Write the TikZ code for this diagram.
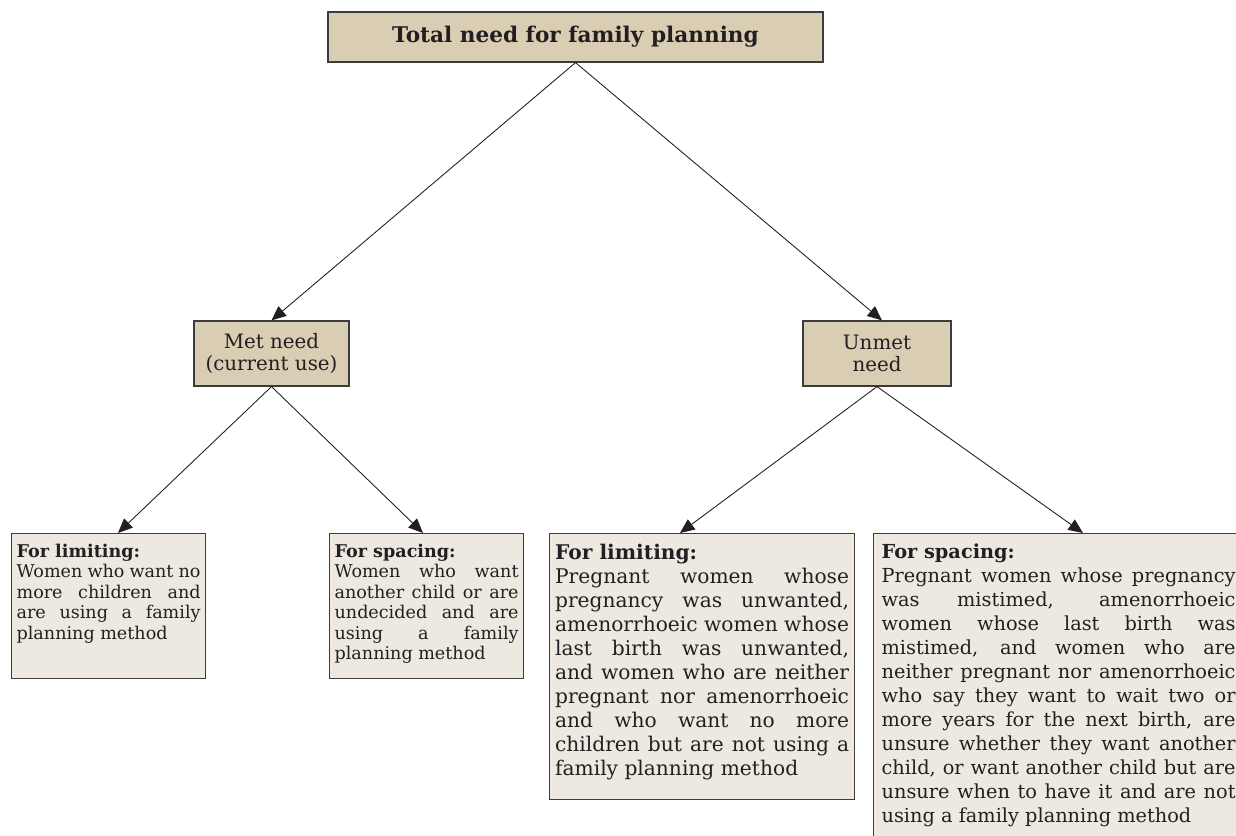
\documentclass[tikz,border=0pt]{standalone}
\usepackage{fontspec}
\setmainfont{DejaVu Serif}
\usetikzlibrary{arrows.meta}
\definecolor{needtan}{HTML}{D9CDB3}
\definecolor{grouppaper}{HTML}{EDE9E0}
\definecolor{edgegray}{HTML}{3C3C3C}
\definecolor{inkgray}{HTML}{231F20}
\hyphenpenalty=10000
\tolerance=10000
\hbadness=10000
\tikzset{
    needbox/.style={draw=edgegray, line width=0.7pt, fill=needtan, text=inkgray, align=center, inner sep=0pt},
    groupbox/.style={draw=edgegray, line width=0.7pt, fill=grouppaper, text=inkgray, anchor=north west, inner xsep=0.1cm, inner ysep=0.21cm},
    arr/.style={-{Triangle[length=0.29cm,width=0.25cm]}, line width=0.5pt, inkgray},
}
\newcommand{\smalltext}{\fontsize{10}{11.65}\selectfont}
\newcommand{\bigtext}{\fontsize{11.5}{13.66}\selectfont}

\begin{document}
\begin{tikzpicture}[x=0.02cm, y=-0.02cm]
\clip (0,0) rectangle (1236,835);
\node[needbox, minimum width=9.9cm, minimum height=1cm, font=\fontsize{12.3}{14}\selectfont\bfseries] (total) at (575.5,37) {Total need for family planning};
\node[needbox, minimum width=3.1cm, minimum height=1.3cm, font=\fontsize{11.3}{12.5}\selectfont] (met) at (271.5,353.5) {Met need\\(current use)};
\node[needbox, minimum width=2.96cm, minimum height=1.3cm, font=\fontsize{11.3}{12.5}\selectfont] (unmet) at (877,353.5) {Unmet\\need};

% met need
\node[groupbox] (metlim) at (11,533) {\parbox[t][2.48cm][t]{3.68cm}{\smalltext
\textbf{For limiting:}\\
Women who want no\linebreak more children and\linebreak are using a family\linebreak planning method}};
\node[groupbox] (metspc) at (329,533) {\parbox[t][2.48cm][t]{3.68cm}{\smalltext
\textbf{For spacing:}\\
Women who want\linebreak another child or are\linebreak undecided and are\linebreak using a family\linebreak planning method}};

% unmet need
\node[groupbox, inner xsep=0.11cm] (unmetlim) at (549,533) {\parbox[t][4.9cm][t]{5.88cm}{\bigtext
\textbf{For limiting:}\\
Pregnant women whose\linebreak pregnancy was unwanted,\linebreak amenorrhoeic women whose\linebreak last birth was unwanted,\linebreak and women who are neither\linebreak pregnant nor amenorrhoeic\linebreak and who want no more\linebreak children but are not using a\linebreak family planning method}};
\node[groupbox, inner xsep=0.16cm] (unmetspc) at (873,533) {\parbox[t][6.2cm][t]{7.08cm}{\fontsize{11}{13.66}\selectfont
\textbf{For spacing:}\\
Pregnant women whose pregnancy\linebreak was mistimed, amenorrhoeic\linebreak women whose last birth was\linebreak mistimed, and women who are\linebreak neither pregnant nor amenorrhoeic\linebreak who say they want to wait two or\linebreak more years for the next birth, are\linebreak unsure whether they want another\linebreak child, or want another child but are\linebreak unsure when to have it and are not\linebreak using a family planning method}};

\draw[arr] (total.south) -- (met.north);
\draw[arr] (total.south) -- ([xshift=0.1cm]unmet.north);
\draw[arr] (met.south) -- ([xshift=2.14cm]metlim.north west);
\draw[arr] (met.south) -- ([xshift=1.88cm]metspc.north west);
\draw[arr] (unmet.south) -- ([xshift=2.62cm]unmetlim.north west);
\draw[arr] (unmet.south) -- ([xshift=4.2cm]unmetspc.north west);
\end{tikzpicture}
\end{document}
